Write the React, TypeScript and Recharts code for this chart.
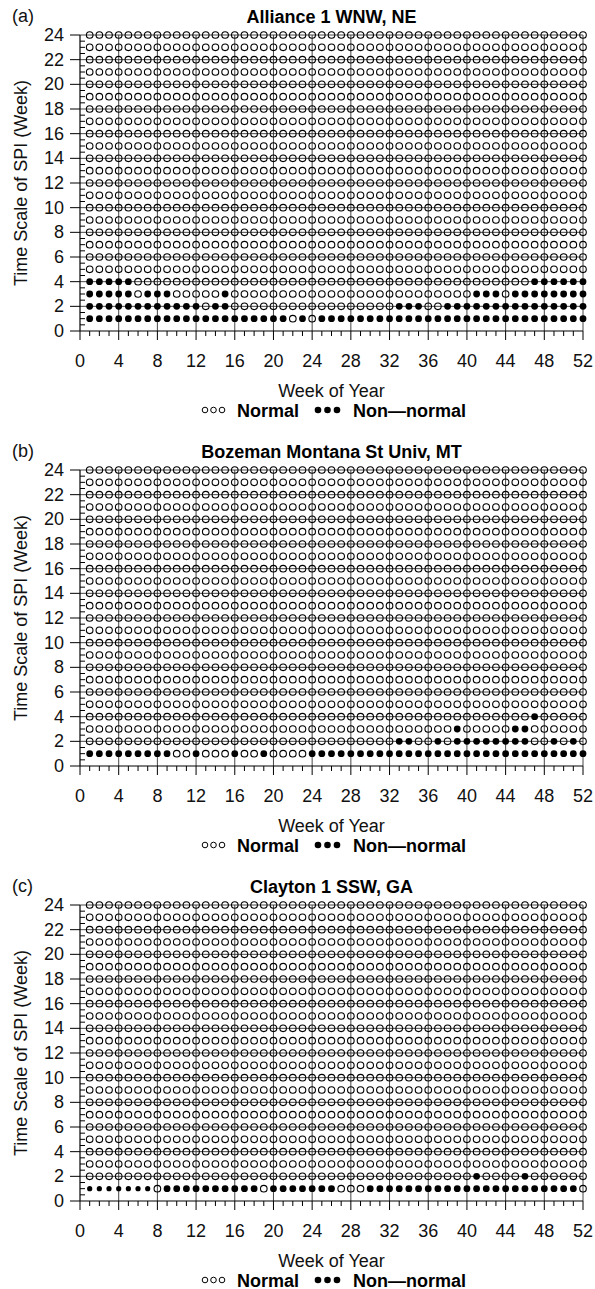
import React from "react"
import { ScatterChart, Scatter, XAxis, YAxis, ReferenceLine } from "recharts"

// weeks of the year and SPI time scales (grid of the panels)
const weeks = [
  1, 2, 3, 4, 5, 6, 7, 8, 9, 10, 11, 12, 13, 14, 15, 16, 17, 18, 19, 20, 21, 22, 23, 24, 25, 26,
  27, 28, 29, 30, 31, 32, 33, 34, 35, 36, 37, 38, 39, 40, 41, 42, 43, 44, 45, 46, 47, 48, 49, 50, 51, 52,
]
const scales = [1, 2, 3, 4, 5, 6, 7, 8, 9, 10, 11, 12, 13, 14, 15, 16, 17, 18, 19, 20, 21, 22, 23, 24]

const xTicks = [
  0, 1, 2, 3, 4, 5, 6, 7, 8, 9, 10, 11, 12, 13, 14, 15, 16, 17, 18, 19, 20, 21, 22, 23, 24, 25, 26,
  27, 28, 29, 30, 31, 32, 33, 34, 35, 36, 37, 38, 39, 40, 41, 42, 43, 44, 45, 46, 47, 48, 49, 50, 51, 52,
]
const yTicks = [
  0, 0.5, 1, 1.5, 2, 2.5, 3, 3.5, 4, 4.5, 5, 5.5, 6, 6.5, 7, 7.5, 8, 8.5, 9, 9.5, 10, 10.5, 11, 11.5,
  12, 12.5, 13, 13.5, 14, 14.5, 15, 15.5, 16, 16.5, 17, 17.5, 18, 18.5, 19, 19.5, 20, 20.5, 21, 21.5,
  22, 22.5, 23, 23.5, 24,
]
const xGrid = [4, 8, 12, 16, 20, 24, 28, 32, 36, 40, 44, 48, 52]
const yGrid = [2, 4, 6, 8, 10, 12, 14, 16, 18, 20, 22, 24]

// non-normal weeks, per time scale (scale 1, 2, 3, 4 ...)
const alliance1 = [
  1, 2, 3, 4, 5, 6, 7, 8, 9, 10, 11, 12, 13, 14, 15, 16, 17, 18, 19, 20, 21, 23, 25, 26, 27, 28, 29,
  30, 31, 32, 33, 34, 35, 36, 37, 38, 39, 40, 41, 42, 43, 44, 45, 46, 47, 48, 49, 50, 51, 52,
]
const alliance2 = [
  1, 2, 3, 4, 5, 6, 7, 8, 9, 10, 11, 12, 14, 15, 33, 34, 35, 38, 39, 40, 41, 42, 43, 44, 45, 46, 47,
  48, 49, 50, 51, 52,
]
const alliance3 = [1, 2, 3, 4, 5, 7, 8, 9, 15, 41, 42, 43, 45, 46, 47, 48, 49, 50, 51, 52]
const alliance4 = [1, 2, 3, 4, 5, 47, 48, 49, 50, 51, 52]

const bozeman1 = [
  1, 2, 3, 4, 5, 6, 7, 8, 9, 12, 16, 19, 24, 25, 26, 27, 28, 29, 30, 31, 32, 33, 34, 35, 36, 37, 38,
  39, 40, 41, 42, 43, 44, 45, 46, 47, 48, 49, 50, 51, 52,
]
const bozeman2 = [33, 34, 37, 39, 40, 41, 42, 43, 44, 45, 46, 49, 51]
const bozeman3 = [39, 45, 46]
const bozeman4 = [47]

const clayton1 = [
  1, 2, 3, 4, 5, 6, 7, 9, 10, 11, 12, 13, 14, 15, 16, 17, 18, 20, 21, 22, 23, 24, 25, 26, 30, 31, 32,
  33, 34, 35, 36, 37, 38, 39, 40, 41, 42, 43, 44, 45, 46, 47, 48, 49, 50, 51,
]
const clayton2 = [41, 46]
// in the Clayton panel the first scale-1 dots are drawn smaller
const claytonSmall1 = [1, 2, 3, 4, 5, 6, 7]

const panels = [
  { tag: "(a)", title: "Alliance 1 WNW, NE", rows: [alliance1, alliance2, alliance3, alliance4], small: [], height: 435 },
  { tag: "(b)", title: "Bozeman Montana St Univ, MT", rows: [bozeman1, bozeman2, bozeman3, bozeman4], small: [], height: 435 },
  { tag: "(c)", title: "Clayton 1 SSW, GA", rows: [clayton1, clayton2], small: claytonSmall1, height: 419 },
]

const FONT = "'Liberation Sans', Arial, Helvetica, sans-serif"
const PLOT_TOP = 35
const PLOT_BOTTOM = 331
const PLOT_LEFT = 80
const PLOT_RIGHT = 583

function splitPoints(rows: number[][], small: number[]) {
  const normal: { week: number; scale: number }[] = []
  const nonNormal: { week: number; scale: number }[] = []
  const tiny: { week: number; scale: number }[] = []
  for (const s of scales) {
    for (const w of weeks) {
      const hit = (rows[s - 1] || []).includes(w)
      if (!hit) normal.push({ week: w, scale: s })
      else if (s === 1 && small.includes(w)) tiny.push({ week: w, scale: s })
      else nonNormal.push({ week: w, scale: s })
    }
  }
  return { normal, nonNormal, tiny }
}

const XTick = ({ x, y, payload }: any) => {
  const v = payload.value
  const major = v % 4 === 0
  return (
    <g>
      <line x1={x} x2={x} y1={y} y2={y + (major ? 9 : 5)} stroke="#000" strokeWidth={1} />
      {major && (
        <text x={x} y={y + 36} textAnchor="middle" fontSize={18} fontFamily={FONT} fill="#111">
          {v}
        </text>
      )}
    </g>
  )
}

const YTick = ({ x, y, payload }: any) => {
  const v = payload.value
  const major = v % 2 === 0
  if (!major) return <line x1={x} x2={x + 5} y1={y} y2={y} stroke="#000" strokeWidth={1} />
  return (
    <g>
      <line x1={x - 10} x2={x} y1={y} y2={y} stroke="#000" strokeWidth={1} />
      <text x={x - 16} y={y + 6} textAnchor="end" fontSize={18} fontFamily={FONT} fill="#111">
        {v}
      </text>
    </g>
  )
}

const openDot = (p: any) => (
  <circle cx={p.cx} cy={p.cy} r={3.3} fill="none" stroke="#000" strokeWidth={1.1} />
)
const fullDot = (p: any) => <circle cx={p.cx} cy={p.cy} r={3.4} fill="#000" />
const smallDot = (p: any) => <circle cx={p.cx} cy={p.cy} r={2.6} fill="#000" />

function Panel({ tag, title, rows, small, height }: any) {
  const { normal, nonNormal, tiny } = splitPoints(rows, small)
  const mid = (PLOT_LEFT + PLOT_RIGHT) / 2
  return (
    <div style={{ position: "relative", width: 595, height }}>
      <ScatterChart
        width={595}
        height={height}
        margin={{ top: PLOT_TOP, right: 595 - PLOT_RIGHT, left: PLOT_LEFT - 60, bottom: height - PLOT_BOTTOM - 30 }}
      >
        <XAxis
          type="number"
          dataKey="week"
          domain={[0, 52]}
          ticks={xTicks}
          interval={0}
          height={30}
          tickSize={0}
          tickMargin={0}
          tickLine={false}
          tick={<XTick />}
          axisLine={{ stroke: "#000", strokeWidth: 1.2 }}
        />
        <YAxis
          type="number"
          dataKey="scale"
          domain={[0, 24]}
          ticks={yTicks}
          interval={0}
          width={60}
          tickSize={0}
          tickMargin={0}
          tickLine={false}
          tick={<YTick />}
          axisLine={{ stroke: "#000", strokeWidth: 1.2 }}
        />
        {xGrid.map((v) => (
          <ReferenceLine key={"x" + v} x={v} stroke="#333" strokeWidth={0.9} ifOverflow="visible" />
        ))}
        {yGrid.map((v) => (
          <ReferenceLine key={"y" + v} y={v} stroke="#333" strokeWidth={0.9} ifOverflow="visible" />
        ))}
        <Scatter data={normal} shape={openDot} isAnimationActive={false} />
        <Scatter data={nonNormal} shape={fullDot} isAnimationActive={false} />
        <Scatter data={tiny} shape={smallDot} isAnimationActive={false} />
      </ScatterChart>
      <svg
        width={595}
        height={height}
        style={{ position: "absolute", left: 0, top: 0, pointerEvents: "none" }}
        fontFamily={FONT}
      >
        <text x={12} y={22} fontSize={18} fill="#111">{tag}</text>
        <text x={mid} y={23} fontSize={18} fontWeight="bold" textAnchor="middle" fill="#000">{title}</text>
        <text
          transform={`translate(27,${(PLOT_TOP + PLOT_BOTTOM) / 2}) rotate(-90)`}
          textAnchor="middle"
          fontSize={18}
          fill="#111"
        >
          Time Scale of SPI (Week)
        </text>
        <text x={mid} y={397} fontSize={18} textAnchor="middle" fill="#111">Week of Year</text>
        <g>
          <circle cx={205} cy={410} r={2.8} fill="none" stroke="#000" strokeWidth={1} />
          <circle cx={213.5} cy={410} r={2.8} fill="none" stroke="#000" strokeWidth={1} />
          <circle cx={222} cy={410} r={2.8} fill="none" stroke="#000" strokeWidth={1} />
          <text x={237} y={416.5} fontSize={18} fontWeight="bold" fill="#000">Normal</text>
          <circle cx={318} cy={410} r={3.3} fill="#000" />
          <circle cx={327.5} cy={410} r={3.3} fill="#000" />
          <circle cx={337} cy={410} r={3.3} fill="#000" />
          <text x={353} y={416.5} fontSize={18} fontWeight="bold" fill="#000">Non—normal</text>
        </g>
      </svg>
    </div>
  )
}

export default function App() {
  return (
    <div style={{ width: 595, background: "#fff" }}>
      <style>{"body{margin:0;background:#fff}"}</style>
      {panels.map((p) => (
        <Panel key={p.tag} {...p} />
      ))}
    </div>
  )
}
